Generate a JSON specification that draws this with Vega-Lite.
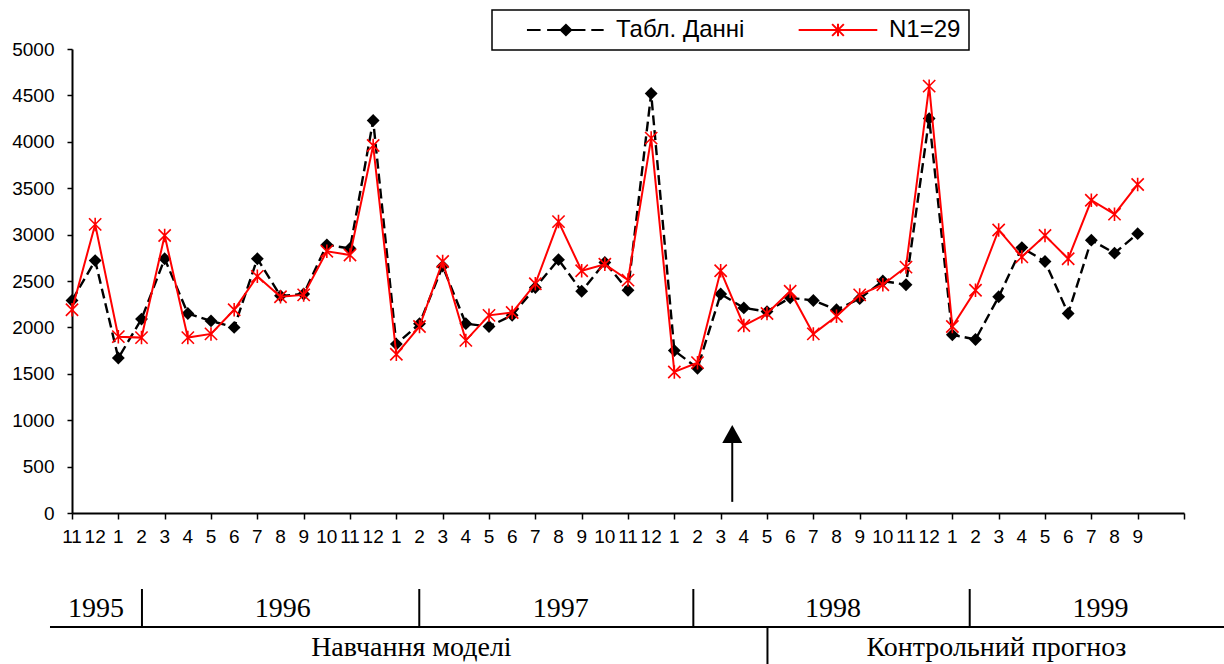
{
  "$schema": "https://vega.github.io/schema/vega-lite/v6.json",
  "width": 1112,
  "height": 464,
  "autosize": {"type": "none"},
  "padding": {"left": 72, "top": 49, "right": 40, "bottom": 151},
  "background": "white",
  "config": {
    "view": {"stroke": null},
    "font": "Liberation Sans"
  },
  "datasets": {
    "main": [
      {"i":0,"year":1995,"month":11,"series":"Табл. Данні","value":2290},{"i":0,"year":1995,"month":11,"series":"N1=29","value":2190},
      {"i":1,"year":1995,"month":12,"series":"Табл. Данні","value":2720},{"i":1,"year":1995,"month":12,"series":"N1=29","value":3110},
      {"i":2,"year":1996,"month":1,"series":"Табл. Данні","value":1670},{"i":2,"year":1996,"month":1,"series":"N1=29","value":1900},
      {"i":3,"year":1996,"month":2,"series":"Табл. Данні","value":2090},{"i":3,"year":1996,"month":2,"series":"N1=29","value":1890},
      {"i":4,"year":1996,"month":3,"series":"Табл. Данні","value":2740},{"i":4,"year":1996,"month":3,"series":"N1=29","value":2990},
      {"i":5,"year":1996,"month":4,"series":"Табл. Данні","value":2150},{"i":5,"year":1996,"month":4,"series":"N1=29","value":1890},
      {"i":6,"year":1996,"month":5,"series":"Табл. Данні","value":2070},{"i":6,"year":1996,"month":5,"series":"N1=29","value":1930},
      {"i":7,"year":1996,"month":6,"series":"Табл. Данні","value":2000},{"i":7,"year":1996,"month":6,"series":"N1=29","value":2190},
      {"i":8,"year":1996,"month":7,"series":"Табл. Данні","value":2740},{"i":8,"year":1996,"month":7,"series":"N1=29","value":2550},
      {"i":9,"year":1996,"month":8,"series":"Табл. Данні","value":2340},{"i":9,"year":1996,"month":8,"series":"N1=29","value":2330},
      {"i":10,"year":1996,"month":9,"series":"Табл. Данні","value":2360},{"i":10,"year":1996,"month":9,"series":"N1=29","value":2350},
      {"i":11,"year":1996,"month":10,"series":"Табл. Данні","value":2890},{"i":11,"year":1996,"month":10,"series":"N1=29","value":2820},
      {"i":12,"year":1996,"month":11,"series":"Табл. Данні","value":2850},{"i":12,"year":1996,"month":11,"series":"N1=29","value":2780},
      {"i":13,"year":1996,"month":12,"series":"Табл. Данні","value":4230},{"i":13,"year":1996,"month":12,"series":"N1=29","value":3960},
      {"i":14,"year":1997,"month":1,"series":"Табл. Данні","value":1820},{"i":14,"year":1997,"month":1,"series":"N1=29","value":1710},
      {"i":15,"year":1997,"month":2,"series":"Табл. Данні","value":2040},{"i":15,"year":1997,"month":2,"series":"N1=29","value":2010},
      {"i":16,"year":1997,"month":3,"series":"Табл. Данні","value":2660},{"i":16,"year":1997,"month":3,"series":"N1=29","value":2710},
      {"i":17,"year":1997,"month":4,"series":"Табл. Данні","value":2040},{"i":17,"year":1997,"month":4,"series":"N1=29","value":1860},
      {"i":18,"year":1997,"month":5,"series":"Табл. Данні","value":2010},{"i":18,"year":1997,"month":5,"series":"N1=29","value":2130},
      {"i":19,"year":1997,"month":6,"series":"Табл. Данні","value":2130},{"i":19,"year":1997,"month":6,"series":"N1=29","value":2160},
      {"i":20,"year":1997,"month":7,"series":"Табл. Данні","value":2430},{"i":20,"year":1997,"month":7,"series":"N1=29","value":2470},
      {"i":21,"year":1997,"month":8,"series":"Табл. Данні","value":2730},{"i":21,"year":1997,"month":8,"series":"N1=29","value":3140},
      {"i":22,"year":1997,"month":9,"series":"Табл. Данні","value":2390},{"i":22,"year":1997,"month":9,"series":"N1=29","value":2610},
      {"i":23,"year":1997,"month":10,"series":"Табл. Данні","value":2700},{"i":23,"year":1997,"month":10,"series":"N1=29","value":2680},
      {"i":24,"year":1997,"month":11,"series":"Табл. Данні","value":2400},{"i":24,"year":1997,"month":11,"series":"N1=29","value":2510},
      {"i":25,"year":1997,"month":12,"series":"Табл. Данні","value":4520},{"i":25,"year":1997,"month":12,"series":"N1=29","value":4040},
      {"i":26,"year":1998,"month":1,"series":"Табл. Данні","value":1750},{"i":26,"year":1998,"month":1,"series":"N1=29","value":1520},
      {"i":27,"year":1998,"month":2,"series":"Табл. Данні","value":1560},{"i":27,"year":1998,"month":2,"series":"N1=29","value":1620},
      {"i":28,"year":1998,"month":3,"series":"Табл. Данні","value":2360},{"i":28,"year":1998,"month":3,"series":"N1=29","value":2610},
      {"i":29,"year":1998,"month":4,"series":"Табл. Данні","value":2210},{"i":29,"year":1998,"month":4,"series":"N1=29","value":2020},
      {"i":30,"year":1998,"month":5,"series":"Табл. Данні","value":2170},{"i":30,"year":1998,"month":5,"series":"N1=29","value":2150},
      {"i":31,"year":1998,"month":6,"series":"Табл. Данні","value":2320},{"i":31,"year":1998,"month":6,"series":"N1=29","value":2390},
      {"i":32,"year":1998,"month":7,"series":"Табл. Данні","value":2290},{"i":32,"year":1998,"month":7,"series":"N1=29","value":1930},
      {"i":33,"year":1998,"month":8,"series":"Табл. Данні","value":2190},{"i":33,"year":1998,"month":8,"series":"N1=29","value":2120},
      {"i":34,"year":1998,"month":9,"series":"Табл. Данні","value":2310},{"i":34,"year":1998,"month":9,"series":"N1=29","value":2350},
      {"i":35,"year":1998,"month":10,"series":"Табл. Данні","value":2500},{"i":35,"year":1998,"month":10,"series":"N1=29","value":2460},
      {"i":36,"year":1998,"month":11,"series":"Табл. Данні","value":2460},{"i":36,"year":1998,"month":11,"series":"N1=29","value":2650},
      {"i":37,"year":1998,"month":12,"series":"Табл. Данні","value":4250},{"i":37,"year":1998,"month":12,"series":"N1=29","value":4600},
      {"i":38,"year":1999,"month":1,"series":"Табл. Данні","value":1920},{"i":38,"year":1999,"month":1,"series":"N1=29","value":2010},
      {"i":39,"year":1999,"month":2,"series":"Табл. Данні","value":1870},{"i":39,"year":1999,"month":2,"series":"N1=29","value":2400},
      {"i":40,"year":1999,"month":3,"series":"Табл. Данні","value":2330},{"i":40,"year":1999,"month":3,"series":"N1=29","value":3050},
      {"i":41,"year":1999,"month":4,"series":"Табл. Данні","value":2860},{"i":41,"year":1999,"month":4,"series":"N1=29","value":2760},
      {"i":42,"year":1999,"month":5,"series":"Табл. Данні","value":2710},{"i":42,"year":1999,"month":5,"series":"N1=29","value":2990},
      {"i":43,"year":1999,"month":6,"series":"Табл. Данні","value":2150},{"i":43,"year":1999,"month":6,"series":"N1=29","value":2740},
      {"i":44,"year":1999,"month":7,"series":"Табл. Данні","value":2940},{"i":44,"year":1999,"month":7,"series":"N1=29","value":3370},
      {"i":45,"year":1999,"month":8,"series":"Табл. Данні","value":2800},{"i":45,"year":1999,"month":8,"series":"N1=29","value":3220},
      {"i":46,"year":1999,"month":9,"series":"Табл. Данні","value":3010},{"i":46,"year":1999,"month":9,"series":"N1=29","value":3540}
    ],
    "years": [
      {"year":"1995","start":-0.95,"end":3.02,"mid":1.04},
      {"year":"1996","start":3.02,"end":14.99,"mid":9.1},
      {"year":"1997","start":14.99,"end":26.82,"mid":21.1},
      {"year":"1998","start":26.82,"end":38.75,"mid":32.85},
      {"year":"1999","start":38.75,"end":49.8,"mid":44.4}
    ],
    "phases": [
      {"phase":"Навчання моделі","start":-0.95,"end":30.02,"mid":14.65},
      {"phase":"Контрольний прогноз","start":30.02,"end":49.8,"mid":39.9}
    ]
  },
  "layer": [
    {
      "data": {"name": "main"},
      "transform": [{"filter": "datum.series === 'Табл. Данні'"}],
      "mark": {"type": "line", "strokeWidth": 2.4, "strokeDash": [10, 5]},
      "encoding": {
        "x": {
          "field": "i", "type": "quantitative",
          "scale": {"domain": [0, 48], "nice": false, "zero": false},
          "axis": {
            "title": null, "grid": false, "labels": false,
            "values": [0,1,2,3,4,5,6,7,8,9,10,11,12,13,14,15,16,17,18,19,20,21,22,23,24,25,26,27,28,29,30,31,32,33,34,35,36,37,38,39,40,41,42,43,44,45,46,47,48],
            "domainColor": "black", "domainWidth": 2,
            "tickColor": "black", "tickWidth": 1.5, "tickSize": 6
          }
        },
        "y": {
          "field": "value", "type": "quantitative",
          "scale": {"domain": [0, 5000], "nice": false},
          "axis": {
            "title": null, "grid": false, "format": "d",
            "values": [0,500,1000,1500,2000,2500,3000,3500,4000,4500,5000],
            "domainColor": "black", "domainWidth": 2,
            "tickColor": "black", "tickWidth": 1.5, "tickSize": 5,
            "labelFont": "Liberation Sans", "labelFontSize": 19, "labelColor": "black",
            "labelPadding": 13, "labelFlush": false, "labelOverlap": false
          }
        },
        "color": {
          "field": "series", "type": "nominal",
          "scale": {"domain": ["Табл. Данні", "N1=29"], "range": ["#000000", "#ff0000"]},
          "legend": {
            "title": null,
            "orient": "none", "legendX": 420, "legendY": -39,
            "direction": "horizontal",
            "padding": 8,
            "strokeColor": "black", "fillColor": "white",
            "symbolSize": 169,
            "labelFont": "Liberation Sans", "labelFontSize": 24, "labelColor": "black",
            "labelOffset": 92,
            "columnPadding": 28,
            "labelExpr": "datum.label === 'N1=29' ? 'N1=29   ' : datum.label",
            "encode": {
              "symbols": {
                "update": {
                  "shape": {"signal": "datum.value === 'N1=29' ? 'M2.1,0H14.2M7.25,-0.9L9.05,0.9M7.25,0.9L9.05,-0.9M8.15,-0.95V0.95' : 'M2.3,0H4.4M5.4,0H7.5M7.5,0L8.3,-0.8L9.1,0L8.3,0.8ZM9.1,0H11.3M12.2,0H14.1'"},
                  "fill": {"signal": "datum.value === 'N1=29' ? 'transparent' : 'black'"},
                  "stroke": {"signal": "datum.value === 'N1=29' ? 'red' : 'black'"},
                  "strokeWidth": {"value": 2},
                  "strokeDash": {"value": []},
                  "opacity": {"value": 1}
                }
              },
              "legend": {"update": {"strokeWidth": {"value": 1.5}}}
            }
          }
        }
      }
    },
    {
      "data": {"name": "main"},
      "transform": [{"filter": "datum.series === 'Табл. Данні'"}],
      "mark": {"type": "text", "font": "Liberation Sans", "fontSize": 19, "color": "black", "align": "center", "baseline": "middle"},
      "encoding": {
        "x": {"field": "i", "type": "quantitative"},
        "y": {"datum": -255},
        "text": {"field": "month"}
      }
    },
    {
      "data": {"name": "main"},
      "transform": [{"filter": "datum.series === 'Табл. Данні'"}],
      "mark": {"type": "point", "shape": "diamond", "filled": true, "color": "black", "size": 165, "opacity": 1},
      "encoding": {
        "x": {"field": "i", "type": "quantitative"},
        "y": {"field": "value", "type": "quantitative"}
      }
    },
    {
      "data": {"name": "main"},
      "transform": [{"filter": "datum.series === 'N1=29'"}],
      "mark": {"type": "line", "strokeWidth": 2},
      "encoding": {
        "x": {"field": "i", "type": "quantitative"},
        "y": {"field": "value", "type": "quantitative"},
        "color": {"field": "series", "type": "nominal"}
      }
    },
    {
      "data": {"name": "main"},
      "transform": [{"filter": "datum.series === 'N1=29'"}],
      "mark": {"type": "point", "shape": "M-1,-1L1,1M-1,1L1,-1M0,-1.1L0,1.1", "filled": false, "color": "#ff0000", "strokeWidth": 1.6, "size": 150, "opacity": 1},
      "encoding": {
        "x": {"field": "i", "type": "quantitative"},
        "y": {"field": "value", "type": "quantitative"}
      }
    },
    {
      "data": {"values": [{}]},
      "mark": {"type": "rule", "color": "black", "strokeWidth": 2},
      "encoding": {"x": {"datum": 28.5}, "y": {"datum": 120}, "y2": {"datum": 760}}
    },
    {
      "data": {"values": [{}]},
      "mark": {"type": "point", "shape": "M0,-1L1,0.8L-1,0.8Z", "filled": true, "color": "black", "size": 400, "opacity": 1},
      "encoding": {"x": {"datum": 28.5}, "y": {"datum": 840}}
    },
    {
      "data": {"values": [{}]},
      "mark": {"type": "rule", "color": "black", "strokeWidth": 2},
      "encoding": {"x": {"datum": -0.95}, "x2": {"datum": 49.8}, "y": {"datum": -1228}}
    },
    {
      "data": {"name": "years"},
      "transform": [{"filter": "datum.start > 0"}],
      "mark": {"type": "rule", "color": "black", "strokeWidth": 2},
      "encoding": {"x": {"field": "start", "type": "quantitative"}, "y": {"datum": -819}, "y2": {"datum": -1228}}
    },
    {
      "data": {"name": "years"},
      "mark": {"type": "text", "font": "Liberation Serif", "fontSize": 28, "color": "black", "align": "center", "baseline": "middle"},
      "encoding": {"x": {"field": "mid", "type": "quantitative"}, "y": {"datum": -1034}, "text": {"field": "year"}}
    },
    {
      "data": {"name": "phases"},
      "transform": [{"filter": "datum.start > 0"}],
      "mark": {"type": "rule", "color": "black", "strokeWidth": 2},
      "encoding": {"x": {"field": "start", "type": "quantitative"}, "y": {"datum": -1228}, "y2": {"datum": -1640}}
    },
    {
      "data": {"name": "phases"},
      "mark": {"type": "text", "font": "Liberation Serif", "fontSize": 28, "color": "black", "align": "center", "baseline": "middle"},
      "encoding": {"x": {"field": "mid", "type": "quantitative"}, "y": {"datum": -1455}, "text": {"field": "phase"}}
    }
  ]
}
